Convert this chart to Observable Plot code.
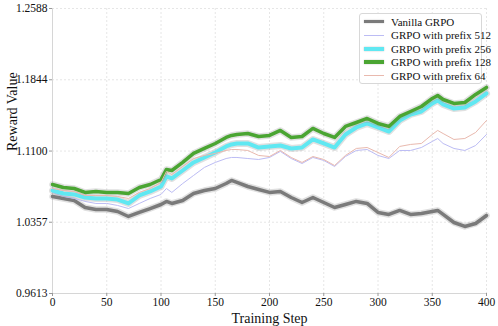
<!DOCTYPE html>
<html><head><meta charset="utf-8">
<script src="https://cdn.jsdelivr.net/npm/d3@7"></script>
<script src="https://cdn.jsdelivr.net/npm/@observablehq/plot@0.6"></script>
<style>
body{margin:0;background:#fff;}
#wrap{position:relative;width:498px;height:326px;font-family:"Liberation Serif","Times New Roman",Times,"DejaVu Serif",serif;}
#legend{position:absolute;left:359px;top:13px;width:121px;height:69px;border:1px solid #d8d8d8;border-radius:3px;background:rgba(255,255,255,0.9);font-size:11px;color:#111;font-family:"Liberation Serif","Times New Roman",Times,serif;}
.row{position:absolute;left:4px;height:13px;display:flex;align-items:center;white-space:nowrap;}
.sw{width:20px;margin-right:7px;flex:none;}
</style></head>
<body><div id="wrap"><div id="legend"></div></div>
<script>
const steps = [0,10,20,30,40,50,60,70,80,90,100,105,110,120,130,140,150,160,165,170,180,190,200,210,220,230,240,250,260,270,280,290,300,310,320,330,340,350,355,360,370,380,390,400];
const vanilla = [1.0626,1.0605,1.0584,1.0511,1.0490,1.0490,1.0469,1.0417,1.0459,1.0500,1.0542,1.0574,1.0553,1.0584,1.0657,1.0688,1.0709,1.0761,1.0793,1.0772,1.0730,1.0699,1.0668,1.0678,1.0615,1.0563,1.0615,1.0563,1.0511,1.0542,1.0574,1.0553,1.0459,1.0438,1.0480,1.0438,1.0448,1.0469,1.0480,1.0438,1.0354,1.0313,1.0344,1.0427];
const prefix512 = [1.0668,1.0626,1.0605,1.0574,1.0553,1.0553,1.0532,1.0500,1.0553,1.0605,1.0647,1.0709,1.0668,1.0761,1.0845,1.0929,1.0981,1.1022,1.1033,1.1033,1.1022,1.1012,1.1033,1.1096,1.1022,1.0970,1.1033,1.1002,1.0939,1.1043,1.1106,1.1116,1.1054,1.1022,1.1106,1.1106,1.1137,1.1200,1.1231,1.1179,1.1127,1.1106,1.1158,1.1273];
const prefix256 = [1.0688,1.0657,1.0647,1.0615,1.0605,1.0605,1.0594,1.0553,1.0636,1.0678,1.0730,1.0835,1.0814,1.0897,1.0981,1.1033,1.1085,1.1148,1.1169,1.1179,1.1179,1.1137,1.1148,1.1158,1.1127,1.1137,1.1221,1.1179,1.1137,1.1273,1.1346,1.1388,1.1346,1.1304,1.1419,1.1482,1.1513,1.1597,1.1628,1.1586,1.1544,1.1555,1.1618,1.1701];
const prefix128 = [1.0751,1.0720,1.0709,1.0668,1.0678,1.0668,1.0668,1.0657,1.0720,1.0751,1.0803,1.0908,1.0897,1.0981,1.1075,1.1127,1.1179,1.1242,1.1263,1.1273,1.1283,1.1252,1.1263,1.1315,1.1242,1.1252,1.1336,1.1283,1.1242,1.1357,1.1398,1.1440,1.1388,1.1357,1.1461,1.1513,1.1565,1.1649,1.1680,1.1638,1.1597,1.1607,1.1691,1.1764];
const prefix64 = [1.0709,1.0688,1.0678,1.0636,1.0636,1.0636,1.0626,1.0605,1.0668,1.0709,1.0772,1.0887,1.0855,1.0939,1.1022,1.1054,1.1075,1.1106,1.1116,1.1116,1.1106,1.1054,1.1043,1.1106,1.1033,1.0981,1.1043,1.1012,1.0949,1.1054,1.1127,1.1137,1.1085,1.1033,1.1148,1.1169,1.1179,1.1273,1.1315,1.1283,1.1221,1.1231,1.1294,1.1419];
const yTicks = [0.9613,1.0357,1.1100,1.1844,1.2588];
const xTicks = [0,50,100,150,200,250,300,350,400];
const seriesNames = ["Vanilla GRPO","GRPO with prefix 512","GRPO with prefix 256","GRPO with prefix 128","GRPO with prefix 64"];

const FONT = "'Liberation Serif','Times New Roman',Times,serif";
const seriesValues = [vanilla, prefix512, prefix256, prefix128, prefix64];
const styles = [
  {color:"#7a7a7a", width:3.5, halo:true},
  {color:"#bcbcf4", width:1, halo:false},
  {color:"#60e8f2", width:4, halo:true},
  {color:"#4aa532", width:3.5, halo:true},
  {color:"#e9b9ae", width:1, halo:false}
];
const rows = [];
seriesValues.forEach((vals, i) => vals.forEach((v, j) => rows.push({series: seriesNames[i], idx: i, step: steps[j], value: v})));

const marks = [
  Plot.gridX(xTicks, {stroke:"#e6e6e6", strokeDasharray:"2,2", strokeOpacity:1}),
  Plot.gridY(yTicks, {stroke:"#e6e6e6", strokeDasharray:"2,2", strokeOpacity:1}),
  Plot.ruleX([0], {stroke:"#d6d6d6"}),
  Plot.ruleY([0.9613], {stroke:"#d6d6d6"}),
  Plot.axisX(xTicks, {tickSize:3, tickPadding:1, fontSize:11.5, label:null, stroke:"#999", fontFamily:FONT}),
  Plot.axisY(yTicks, {tickSize:3, tickPadding:2, fontSize:11.5, label:null, tickFormat: d => d.toFixed(4), stroke:"#999", fontFamily:FONT})
];
seriesNames.forEach((name, i) => {
  const data = rows.filter(r => r.idx === i);
  const s = styles[i];
  if (s.halo) marks.push(Plot.line(data, {x:"step", y:"value", stroke:"#999", strokeOpacity:0.3, strokeWidth:s.width+3, strokeLinejoin:"round"}));
  marks.push(Plot.line(data, {x:"step", y:"value", stroke:s.color, strokeWidth:s.width, strokeLinejoin:"round"}));
});
marks.push(Plot.text(["Training Step"], {text:d=>d, frameAnchor:"bottom", dy:25, lineAnchor:"middle", fontSize:14, fill:"#111", fontFamily:FONT}));
marks.push(Plot.text(["Reward Value"], {text:d=>d, frameAnchor:"left", dx:-40, rotate:-90, fontSize:14, fill:"#111", fontFamily:FONT}));

const chart = Plot.plot({
  width:498, height:326,
  marginLeft:52, marginRight:12, marginTop:8, marginBottom:33,
  style:{fontFamily:FONT, color:"#111", background:"#fff"},
  x:{domain:[0,400]},
  y:{domain:[0.9613,1.2588]},
  marks
});
const wrap = document.getElementById("wrap");
wrap.insertBefore(chart, wrap.firstChild);

const legend = document.getElementById("legend");
seriesNames.forEach((name, i) => {
  const r = document.createElement("div");
  r.className = "row";
  r.style.top = (1 + i*13.5) + "px";
  const s = styles[i];
  r.innerHTML = `<div class="sw" style="height:${s.width}px;background:${s.color};${s.halo?'box-shadow:0 0 1.5px #aaa;':''}"></div><span>${name}</span>`;
  legend.appendChild(r);
});
</script></body></html>
